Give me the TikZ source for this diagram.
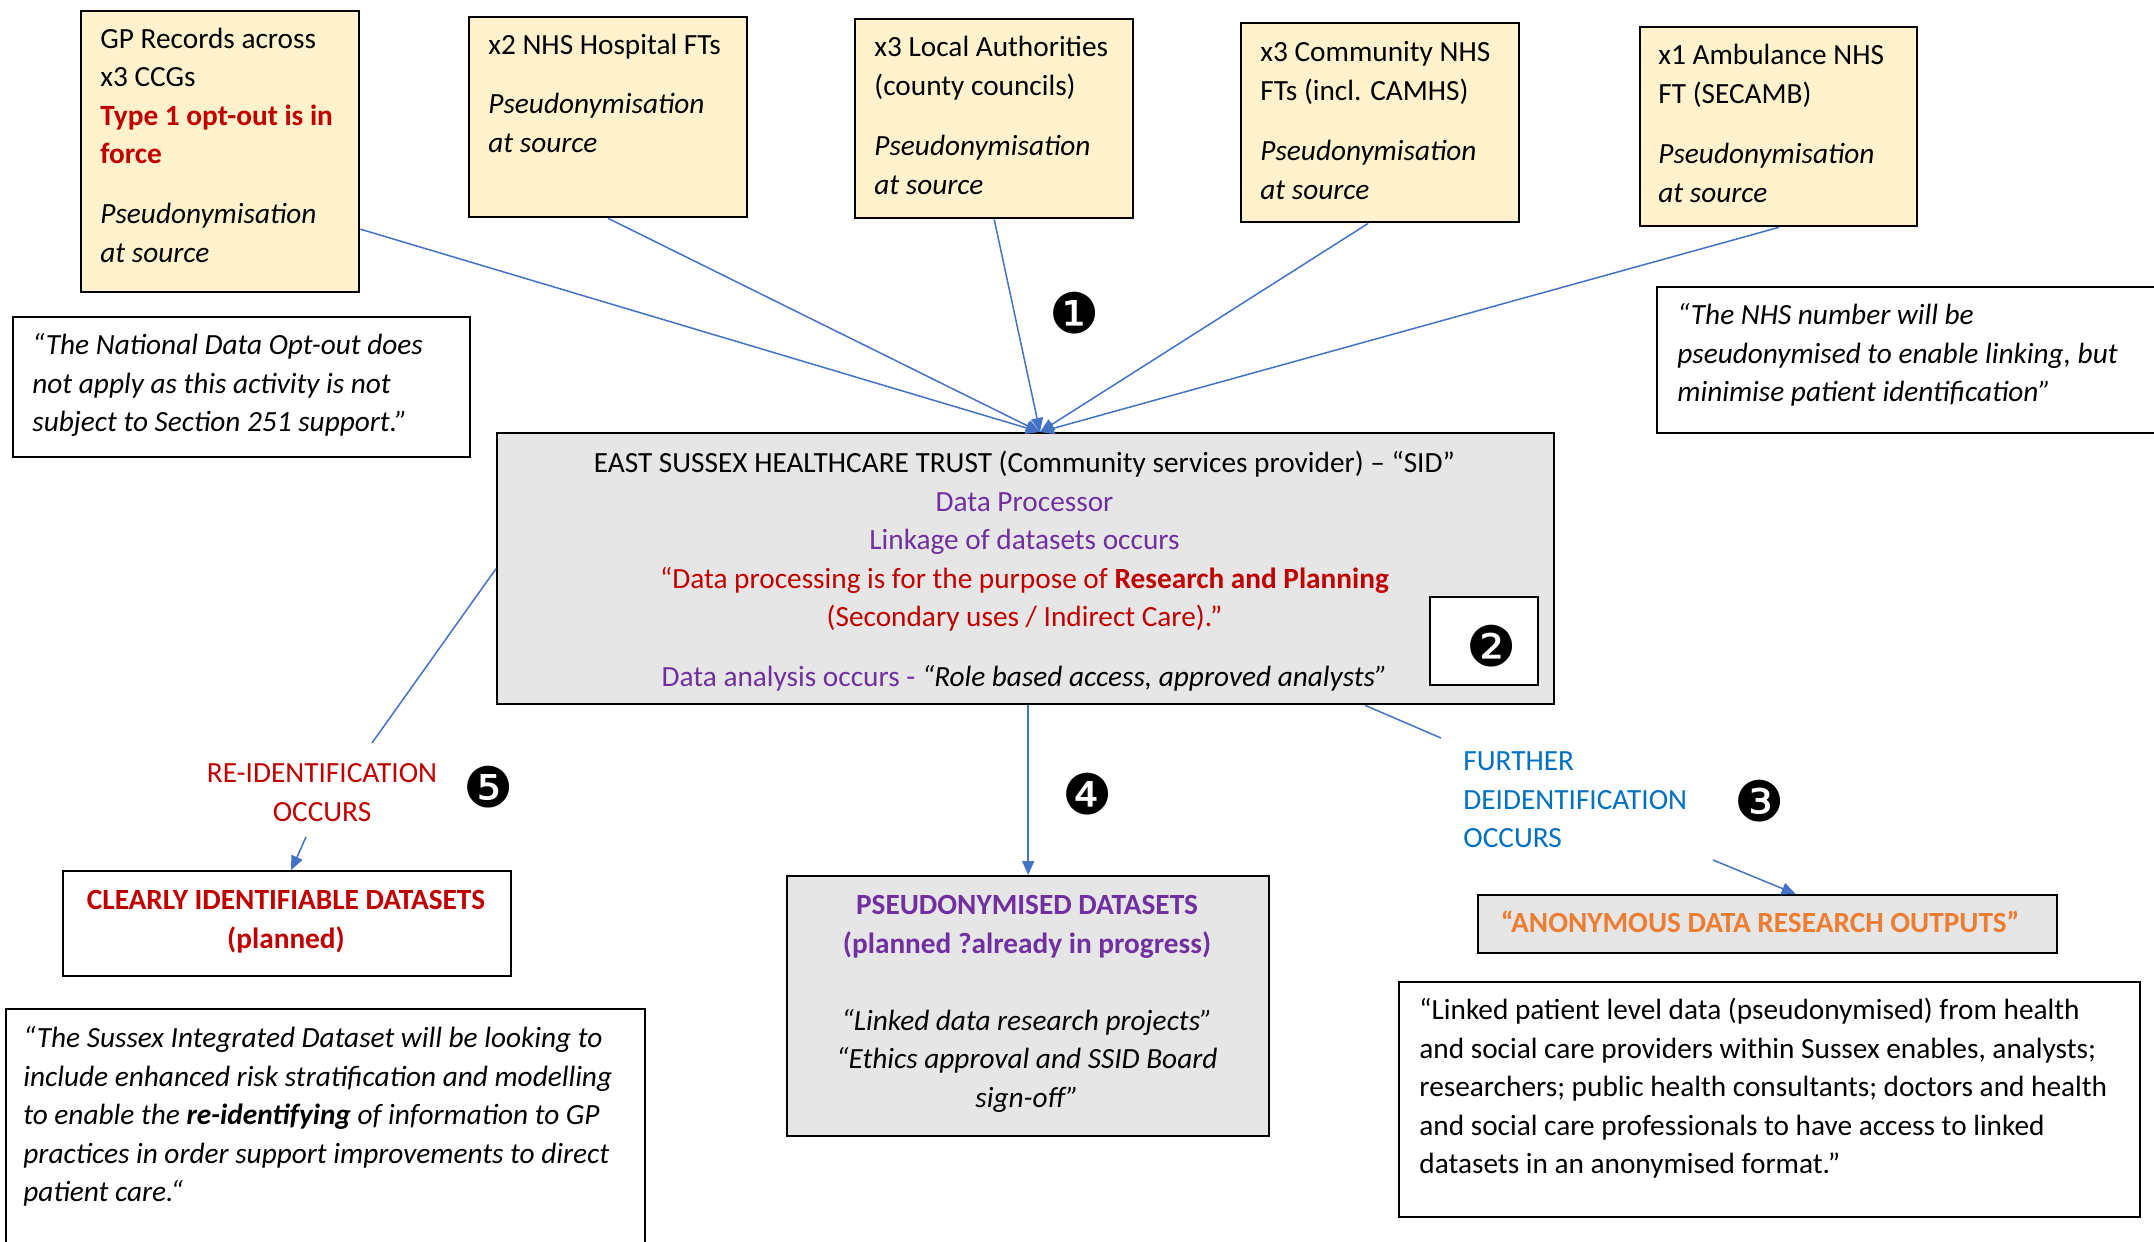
\documentclass[tikz,border=0pt]{standalone}
\usepackage{fontspec}
\setmainfont{Carlito}
\newfontfamily\dingfont{DejaVu Sans}
\usetikzlibrary{arrows.meta,calc}
\definecolor{ybox}{HTML}{FFF2CC}
\definecolor{gbox}{HTML}{E7E6E6}
\definecolor{arrowblue}{HTML}{4472C4}
\definecolor{dred}{HTML}{C00000}
\definecolor{dpurple}{HTML}{7030A0}
\definecolor{tblue}{HTML}{0070C0}
\definecolor{orng}{HTML}{ED7D31}
\newcommand\myfs{\fontsize{14.65pt}{19.25pt}\selectfont}
\begin{document}
\begin{tikzpicture}[x=0.5pt,y=-0.5pt,
 every node/.style={font=\myfs},
 frame/.style={draw=black, line width=1.2pt, anchor=north west, inner sep=0pt},
 yel/.style={frame, fill=ybox},
 gry/.style={frame, fill=gbox},
 wht/.style={frame, fill=white},
 txt/.style={anchor=north west, align=left, inner sep=0pt},
 itxt/.style={txt, font={\myfs\itshape}},
 ctxt/.style={anchor=north, align=center, inner sep=0pt},
 link/.style={draw=arrowblue, line width=0.75pt},
 arr/.style={link, -{Triangle[length=7pt,width=6pt]}},
 badge/.style={font={\dingfont\fontsize{28pt}{28pt}\selectfont}, inner sep=0pt},
]
\useasboundingbox (0,0) rectangle (2154,1242);
\fill[white] (0,0) rectangle (2154,1242);

% top source boxes
\node[yel, minimum width=139pt, minimum height=140.5pt] (GP) at (80,10) {};
\node[yel, minimum width=139pt, minimum height=100pt] (Hosp) at (468,16) {};
\node[yel, minimum width=139pt, minimum height=99.5pt] (Local) at (854,18) {};
\node[yel, minimum width=139pt, minimum height=99.5pt] (Comm) at (1240,22) {};
\node[yel, minimum width=138.5pt, minimum height=99.5pt] (Amb) at (1639,26) {};

\node[txt] (GPt) at (100,21) {\strut GP Records across\\ x3 CCGs\\ {\color{dred}\bfseries Type 1 opt-out is in}\\ {\color{dred}\bfseries force}\\[10.75pt] \textit{Pseudonymisation}\\ \textit{at source}};
\node[txt] (Hospt) at (488,27.5) {\strut x2 NHS Hospital FTs\\[10.25pt] \textit{Pseudonymisation}\\ \textit{at source}};
\node[txt] (Localt) at (874,29.5) {\strut x3 Local Authorities\\ (county councils)\\[11pt] \textit{Pseudonymisation}\\ \textit{at source}};
\node[txt] (Commt) at (1260,34.5) {\strut x3 Community NHS\\ FTs (incl. CAMHS)\\[11pt] \textit{Pseudonymisation}\\ \textit{at source}};
\node[txt] (Ambt) at (1658,37.5) {\strut x1 Ambulance NHS\\ FT (SECAMB)\\[11pt] \textit{Pseudonymisation}\\ \textit{at source}};

% side quotes
\node[wht, minimum width=228.5pt, minimum height=70pt] (Optout) at (12,316) {};
\node[itxt] (Optoutt) at (32,327.5) {\strut “The National Data Opt-out does\\ not apply as this activity is not\\ subject to Section 251 support.”};
\node[wht, minimum width=257pt, minimum height=73pt] (NHSnum) at (1656,286) {};
\node[itxt] (NHSnumt) at (1677,297.5) {\strut “The NHS number will be\\ pseudonymised to enable linking, but\\ minimise patient identification”};

% main box
\node[gry, minimum width=528.5pt, minimum height=135.5pt] (main) at (496,432) {};
\node[ctxt] (maintxt) at (1024.5,445.5) {\strut EAST SUSSEX HEALTHCARE TRUST (Community services provider) – “SID”\\
{\color{dpurple}Data Processor}\\
{\color{dpurple}Linkage of datasets occurs}\\
{\color{dred}“Data processing is for the purpose of \textbf{Research and Planning}}\\
{\color{dred}(Secondary uses / Indirect Care).”}\\[10.75pt]
{\color{dpurple}Data analysis occurs -} \textit{“Role based access, approved analysts”}};
\node[wht, minimum width=54pt, minimum height=44pt] (b2box) at (1429,596) {};

% outputs
\node[wht, minimum width=224pt, minimum height=52.5pt] (clear) at (62,870) {};
\node[ctxt, text=dred, font={\myfs\bfseries}] (cleart) at (286,882.5) {\strut CLEARLY IDENTIFIABLE DATASETS\\ (planned)};
\node[wht, minimum width=319.5pt, minimum height=126pt] (suss) at (5,1008) {};
\node[itxt] (susst) at (23,1020.5) {\strut “The Sussex Integrated Dataset will be looking to\\ include enhanced risk stratification and modelling\\ to enable the \textbf{re-identifying} of information to GP\\ practices in order support improvements to direct\\ patient care.“};
\node[gry, minimum width=241pt, minimum height=130pt] (pseud) at (786,875) {};
\node[ctxt] (pseudt) at (1027,887.5) {\strut{\color{dpurple}\bfseries PSEUDONYMISED DATASETS}\\
{\color{dpurple}\bfseries (planned ?already in progress)}\\[19.25pt]
\textit{“Linked data research projects”}\\
\textit{“Ethics approval and SSID Board}\\
\textit{sign-off”}};
\node[gry, minimum width=289.5pt, minimum height=29pt] (anon) at (1477,894) {};
\node[ctxt, text=orng, font={\myfs\bfseries}] (anont) at (1760,905.5) {\strut “ANONYMOUS DATA RESEARCH OUTPUTS”};
\node[wht, minimum width=370.5pt, minimum height=117.5pt] (linked) at (1398,981) {};
\node[txt] (linkedt) at (1419,992.5) {\strut “Linked patient level data (pseudonymised) from health\\ and social care providers within Sussex enables, analysts;\\ researchers; public health consultants; doctors and health\\ and social care professionals to have access to linked\\ datasets in an anonymised format.”};

% labels
\node[ctxt, text=dred] (reid) at (322,755.5) {\strut RE-IDENTIFICATION\\ OCCURS};
\node[txt, text=tblue] (further) at (1463,743.5) {\strut FURTHER\\ DEIDENTIFICATION\\ OCCURS};

% badges
\node[badge] (b1) at (1075,313) {❶};
\node[badge] (b2) at (1492,646) {❷};
\node[badge] (b3) at (1760,801) {❸};
\node[badge] (b4) at (1088,794) {❹};
\node[badge] (b5) at (489,787) {❺};

% connectors
\coordinate (hub) at (1040,432);
\draw[arr] ([yshift=-38.75pt]GP.east) -- (hub);
\draw[arr] (Hosp.south) -- (hub);
\draw[arr] (Local.south) -- (hub);
\draw[arr] ([xshift=-6pt]Comm.south) -- (hub);
\draw[arr] (Amb.south) -- (hub);

\coordinate (reidA) at (372,743);
\coordinate (reidB) at (306,837);
\draw[link] (main.west) -- (reidA);
\draw[arr] (reidB) -- ([xshift=2pt]clear.north);

\draw[arr] (pseud.north |- main.south) -- (pseud.north);

\coordinate (furA) at (1441,738);
\coordinate (furB) at (1713,860);
\draw[link] ([xshift=169.75pt]main.south) -- (furA);
\draw[arr] (furB) -- ([xshift=14pt]anon.north);
\end{tikzpicture}
\end{document}
